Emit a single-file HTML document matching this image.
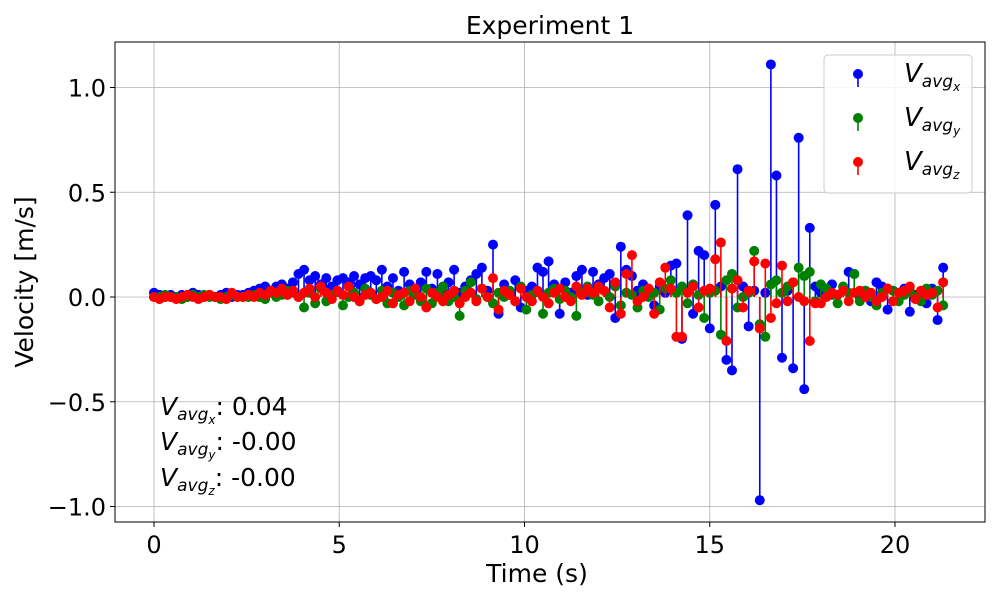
<!DOCTYPE html>
<html><head><meta charset="utf-8"><style>
body{margin:0;background:#fff;font-family:"Liberation Sans","DejaVu Sans",sans-serif}
</style></head><body>
<svg id="chart" width="1000" height="600" viewBox="0 0 1000 600" style="font-family:'DejaVu Sans','Liberation Sans',sans-serif">
<rect x="0" y="0" width="1000" height="600" fill="#fff"/>
<g id="grid"></g>
<g id="series"></g>
<rect x="115" y="42" width="870" height="480" fill="none" stroke="#000" stroke-width="1"/>
<g id="ticks" font-size="24"></g>
<text x="550" y="34" text-anchor="middle" font-size="25">Experiment 1</text>
<text x="537" y="582" text-anchor="middle" font-size="25">Time (s)</text>
<text transform="translate(33,282) rotate(-90)" text-anchor="middle" font-size="25">Velocity [m/s]</text>
<g font-size="25">
<text x="160" y="415"><tspan font-style="italic">V</tspan><tspan font-style="italic" font-size="17" dy="5">avg</tspan><tspan font-style="italic" font-size="12" dy="4">x</tspan><tspan dy="-9">: 0.04</tspan></text>
<text x="160" y="450"><tspan font-style="italic">V</tspan><tspan font-style="italic" font-size="17" dy="5">avg</tspan><tspan font-style="italic" font-size="12" dy="4">y</tspan><tspan dy="-9">: -0.00</tspan></text>
<text x="160" y="486"><tspan font-style="italic">V</tspan><tspan font-style="italic" font-size="17" dy="5">avg</tspan><tspan font-style="italic" font-size="12" dy="4">z</tspan><tspan dy="-9">: -0.00</tspan></text>
</g>
<g>
<rect x="824" y="55" width="148" height="138" rx="4" fill="#fff" fill-opacity="0.85" stroke="#ccc"/>
<g id="legend-items" font-size="26"></g>
</g>
</svg>
<script>
const times=[];for(let i=0;i<143;i++)times.push(+(i*0.15).toFixed(2));
const vx=[0.02,0.01,0.0,0.01,0.0,0.01,0.0,0.02,0.01,0.0,0.01,0.0,0.01,0.02,0.0,0.01,0.01,
0.02,0.03,0.04,0.05,0.03,0.05,0.06,0.04,0.07,0.11,
0.13,0.08,0.1,0.06,0.09,0.05,0.08,0.09,0.07,0.1,0.06,0.09,0.1,0.08,
0.13,0.05,0.09,0.03,0.12,0.06,0.02,0.07,0.12,0.04,0.11,0.03,0.07,0.13,0.02,0.05,0.08,0.11,0.14,0.03,
0.25,
-0.08,0.06,0.02,0.08,-0.05,0.03,0.05,0.14,0.12,0.17,0.06,-0.08,0.07,0.02,0.1,0.13,0.01,0.12,0.06,
0.09,0.11,-0.1,0.24,0.13,0.1,0.03,0.06,0.04,-0.04,0.05,0.02,0.15,0.16,-0.2,
0.39,-0.08,0.22,0.2,-0.15,0.44,0.05,-0.3,-0.35,0.61,0.05,-0.14,0.03,-0.97,0.02,1.11,0.58,-0.29,0.03,-0.34,0.76,-0.44,0.33,0.05,
0.02,0.04,0.06,0.01,0.03,0.12,0.11,0.0,0.03,-0.02,0.07,0.05,-0.06,0.03,0.02,0.04,-0.07,0.01,0.0,-0.03,0.04,-0.11,0.14];
const vy=[0.0,0.0,0.01,0.0,0.0,-0.01,0.0,0.01,0.0,0.01,0.0,0.0,-0.01,0.0,0.01,0.0,0.0,
0.0,0.01,0.0,-0.01,0.02,0.0,0.01,0.03,0.02,0.0,
-0.05,0.02,-0.03,0.04,-0.02,0.01,0.03,-0.04,0.0,0.02,-0.02,0.04,0.01,-0.01,
0.03,-0.03,0.02,0.0,-0.04,0.03,0.01,-0.02,0.04,-0.03,0.02,0.05,-0.02,0.0,-0.09,0.03,0.07,-0.01,0.04,0.0,
-0.03,
0.02,0.0,0.03,-0.02,0.05,-0.06,0.01,0.03,-0.08,0.02,0.04,-0.01,0.03,0.0,-0.09,0.02,0.05,0.01,-0.02,
0.03,0.0,0.05,-0.04,0.02,0.01,-0.05,0.03,0.0,0.02,-0.06,0.04,0.08,0.02,0.05,
-0.03,0.06,0.01,-0.1,0.02,0.03,-0.18,0.08,0.11,-0.05,0.0,0.02,0.22,-0.13,-0.19,0.06,0.08,0.02,0.05,0.07,0.14,0.1,0.12,-0.02,
0.06,0.04,0.01,-0.03,0.05,0.02,0.11,-0.02,0.03,0.0,-0.04,0.02,0.04,0.03,-0.02,0.01,0.03,0.0,-0.02,0.04,0.01,0.03,-0.04];
const vz=[0.0,-0.01,0.0,0.0,-0.01,0.0,0.01,0.0,-0.01,0.0,0.01,0.0,0.0,-0.01,0.02,0.0,0.0,
0.01,0.0,0.02,0.01,0.03,0.02,0.04,0.01,0.03,0.0,
0.02,0.04,0.0,0.05,0.02,-0.01,0.03,0.01,0.05,0.0,-0.02,0.01,0.02,-0.01,
0.0,0.03,-0.03,0.01,0.02,-0.02,0.04,0.0,-0.05,0.02,0.0,-0.02,0.01,0.03,-0.03,0.0,0.02,-0.02,0.04,0.0,
0.09,
-0.06,0.03,0.01,-0.02,0.04,0.0,-0.02,0.03,0.0,-0.03,0.02,0.04,0.0,-0.02,0.05,0.01,0.04,0.02,0.05,
0.03,-0.05,0.07,-0.08,0.11,0.2,-0.02,0.0,0.04,-0.08,0.07,0.14,0.04,-0.19,-0.19,
0.02,0.05,-0.05,0.03,0.04,0.18,0.26,-0.21,0.04,0.08,-0.05,0.03,0.17,-0.15,0.16,-0.1,-0.03,0.15,-0.02,0.07,0.0,-0.02,-0.21,-0.03,
-0.03,0.0,0.02,0.01,0.03,-0.02,0.02,0.03,0.0,0.02,-0.02,0.0,0.04,-0.02,0.02,0.03,0.05,-0.01,0.03,0.01,0.02,-0.05,0.07];
const xTicks=[0,5,10,15,20];
const yTicks=[-1.0,-0.5,0.0,0.5,1.0];
const X=t=>154+t*(895-154)/20;
const Y=v=>297-v*209.5;
const NS='http://www.w3.org/2000/svg';
function mk(tag,a,p){const e=document.createElementNS(NS,tag);for(const k in a)e.setAttribute(k,a[k]);p.appendChild(e);return e;}
const grid=document.getElementById('grid'),ticks=document.getElementById('ticks'),ser=document.getElementById('series');
xTicks.forEach(t=>{
 const l=mk('line',{x1:X(t),x2:X(t),y1:42,y2:522,stroke:'#b0b0b0','stroke-width':0.8},grid);
 
 
 mk('line',{x1:X(t),x2:X(t),y1:522,y2:527,stroke:'#000'},ticks);
 const tx=mk('text',{x:X(t),y:553,'text-anchor':'middle'},ticks);tx.textContent=t;
 
 
});
yTicks.forEach(v=>{
 const l=mk('line',{x1:115,x2:985,y1:Y(v),y2:Y(v),stroke:'#b0b0b0','stroke-width':0.8},grid);
 
 
 mk('line',{x1:110,x2:115,y1:Y(v),y2:Y(v),stroke:'#000'},ticks);
 const tx=mk('text',{x:106,y:Y(v)+9,'text-anchor':'end'},ticks);tx.textContent=v.toFixed(1).replace('-','\u2212');
 
 
});
function series(vals,color,name){
 const g=mk('g',{},ser);
 
 
 vals.forEach((v,i)=>{mk('line',{x1:X(times[i]),x2:X(times[i]),y1:Y(0),y2:Y(v),stroke:color,'stroke-width':1.6},g);});
 vals.forEach((v,i)=>{
  const c=mk('circle',{cx:X(times[i]),cy:Y(v),r:5,fill:color},g);
  
  
 });
}
series(vx,'#0000ff','series-vx');
series(vy,'#008000','series-vy');
series(vz,'#ff0000','series-vz');
const lg=document.getElementById('legend-items');
[['#0000ff','x',78],['#008000','y',122],['#ff0000','z',166]].forEach(([c,s,y])=>{
 const g=mk('g',{},lg);
 
 
 mk('line',{x1:858,x2:858,y1:y-4,y2:y+9,stroke:c,'stroke-width':1.6},g);
 mk('circle',{cx:858,cy:y-4,r:5,fill:c},g);
 const t=mk('text',{x:904,y:y+4},g);
 t.innerHTML='<tspan font-style="italic">V</tspan><tspan font-style="italic" font-size="17" dy="5">avg</tspan><tspan font-style="italic" font-size="12" dy="4">'+s+'</tspan>';
});
</script>
</body></html>
